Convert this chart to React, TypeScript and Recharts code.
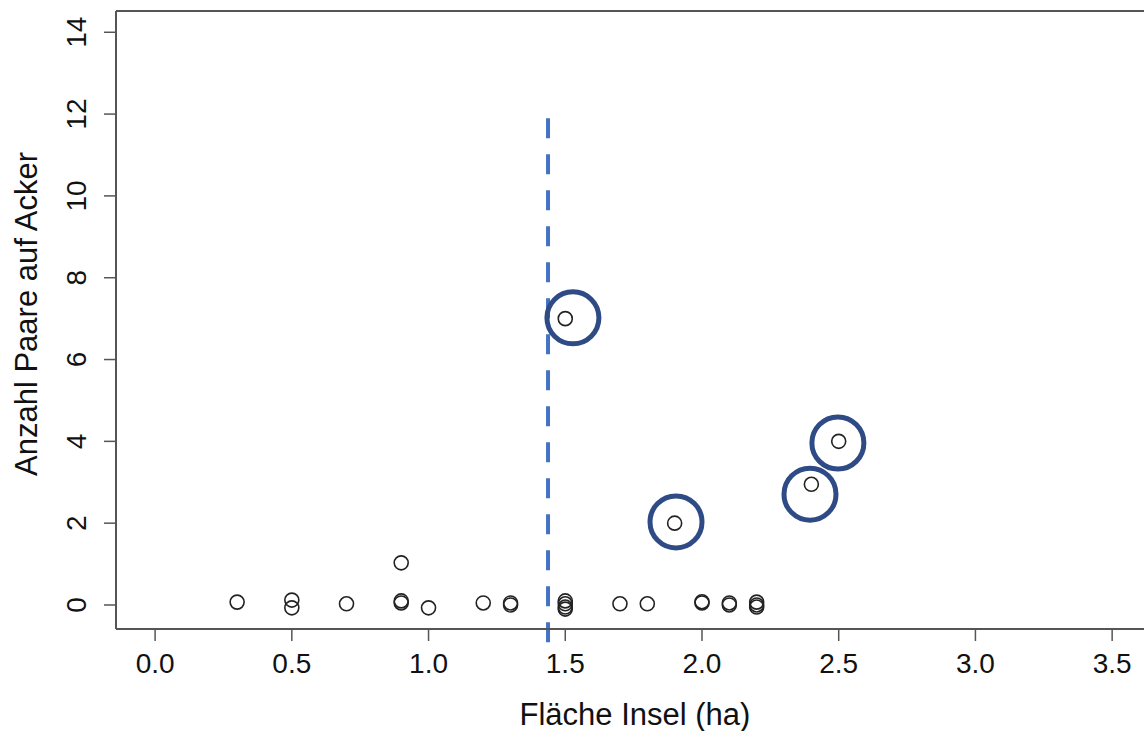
import React from 'react';
import {
  ScatterChart, Scatter, XAxis, YAxis, ReferenceLine,
} from 'recharts';

// island area (ha) vs. breeding pairs on field (incl. R jitter)
const areas = [
  0.3, 0.5, 0.5, 0.7, 0.9, 0.9, 0.9, 1.0, 1.2, 1.3, 1.3,
  1.5, 1.5, 1.5, 1.5, 1.5, 1.7, 1.8, 1.9, 2.0, 2.0, 2.1, 2.1,
  2.2, 2.2, 2.2, 2.4, 2.5,
];
const pairs = [
  0.07, 0.12, -0.07, 0.03, 1.03, 0.1, 0.05, -0.07, 0.05, 0.05, 0.0,
  7.0, 0.1, 0.03, -0.05, -0.1, 0.03, 0.03, 2.0, 0.08, 0.05, 0.05, 0.0,
  0.07, 0.0, -0.05, 2.95, 4.0,
];

// hand-drawn highlight rings
const ringX = [1.528, 1.905, 2.395, 2.497];
const ringY = [7.02, 2.03, 2.71, 3.96];

const xTicks = [0, 0.5, 1, 1.5, 2, 2.5, 3, 3.5];
const yTicks = [0, 2, 4, 6, 8, 10, 12, 14];

const thresholdX = 1.437;
const thresholdTop = 11.9;
const thresholdBottom = -0.91;

const X_DOMAIN: [number, number] = [-0.143, 3.675];
const Y_DOMAIN: [number, number] = [-0.587, 14.52];

const points = areas.map((x, i) => ({ x, y: pairs[i] }));
const rings = ringX.map((x, i) => ({ x, y: ringY[i] }));

const FONT = '"Liberation Sans", Arial, sans-serif';
const AXIS_COLOR = '#555';

const OpenDot = (p: any) => (
  <circle cx={p.cx} cy={p.cy} r={7} fill="none" stroke="#222" strokeWidth={1.6} />
);

const Ring = (p: any) => (
  <circle cx={p.cx} cy={p.cy} r={26} fill="none" stroke="#2f4b85" strokeWidth={5} />
);

const YTick = ({ x, y, payload }: any) => (
  <text
    x={x}
    y={y}
    transform={`rotate(-90 ${x} ${y})`}
    textAnchor="middle"
    fontSize={28}
    fontFamily={FONT}
    fill="#111"
  >
    {payload.value}
  </text>
);

export default function App() {
  return (
    <div style={{ position: 'absolute', left: 0, top: 0, width: 1144, height: 731, overflow: 'hidden', background: '#fff' }}>
      <ScatterChart width={1180} height={731} margin={{ top: 11, right: 20, bottom: 0, left: 0 }}>
        <XAxis
          type="number"
          dataKey="x"
          domain={X_DOMAIN}
          ticks={xTicks}
          allowDataOverflow
          height={102}
          tickSize={12}
          tickMargin={12}
          tickFormatter={(v: number) => v.toFixed(1)}
          tick={{ fill: '#111', fontSize: 28, fontFamily: FONT }}
          axisLine={{ stroke: AXIS_COLOR, strokeWidth: 2 }}
          tickLine={{ stroke: AXIS_COLOR, strokeWidth: 1.5 }}
          label={({ viewBox }: any) => (
            <text
              x={viewBox.x + viewBox.width / 2 - 3}
              y={725}
              textAnchor="middle"
              fontSize={31}
              fontFamily={FONT}
              fill="#111"
            >
              Fläche Insel (ha)
            </text>
          )}
        />
        <YAxis
          type="number"
          dataKey="y"
          domain={Y_DOMAIN}
          ticks={yTicks}
          allowDataOverflow
          width={116}
          tickSize={12}
          tickMargin={18}
          tick={<YTick />}
          axisLine={{ stroke: AXIS_COLOR, strokeWidth: 2 }}
          tickLine={{ stroke: AXIS_COLOR, strokeWidth: 1.5 }}
          label={({ viewBox }: any) => {
            const cy = viewBox.y + viewBox.height / 2 - 6;
            return (
              <text
                x={37}
                y={cy}
                transform={`rotate(-90 37 ${cy})`}
                textAnchor="middle"
                fontSize={31}
                fontFamily={FONT}
                fill="#111"
              >
                Anzahl Paare auf Acker
              </text>
            );
          }}
        />
        {/* top frame line */}
        <ReferenceLine y={Y_DOMAIN[1]} stroke={AXIS_COLOR} strokeWidth={2} ifOverflow="visible" />
        <ReferenceLine
          segment={[{ x: thresholdX, y: thresholdTop }, { x: thresholdX, y: thresholdBottom }]}
          stroke="#4472c4"
          strokeWidth={4}
          strokeDasharray="20 16"
          ifOverflow="visible"
        />
        <Scatter data={points} shape={OpenDot} isAnimationActive={false} />
        <Scatter data={rings} shape={Ring} isAnimationActive={false} />
      </ScatterChart>
    </div>
  );
}
